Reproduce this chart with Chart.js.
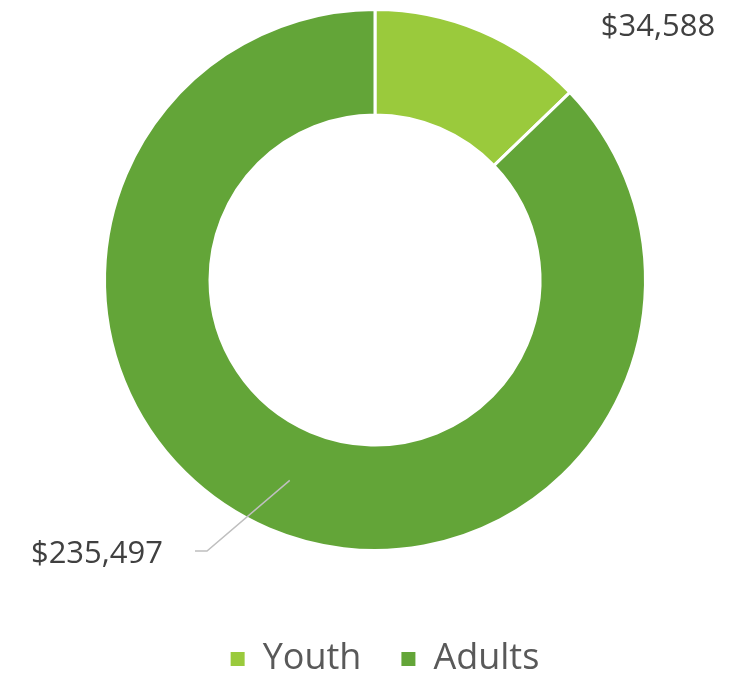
<!DOCTYPE html>
<html>
<head>
<meta charset="utf-8">
<script src="https://cdn.jsdelivr.net/npm/chart.js@4.4.1/dist/chart.umd.min.js"></script>
<style>
  html, body { margin: 0; padding: 0; background: #ffffff; }
  #wrap { width: 748px; height: 676px; }
</style>
</head>
<body>
<div id="wrap"><canvas id="donut" width="748" height="676"></canvas></div>
<script>
const categories = ['Youth', 'Adults'];
const amounts = [34588, 235497];
const sliceColors = ['#9aca3c', '#63a538'];

const fmt = v => '$' + v.toLocaleString('en-US');

// value labels: Youth sits up right, Adults gets a leader line down left
const valueLabels = {
    id: 'valueLabels',
    afterLayout(chart) {
        // legend sits a little right of centre in the original
        chart.legend.left += 10;
        chart.legend.right += 10;
    },
    afterDatasetsDraw(chart) {
        const ctx = chart.ctx;
        const arcs = chart.getDatasetMeta(0).data;
        ctx.save();
        ctx.font = '31px "Open Sans"';
        ctx.fillStyle = '#404040';
        ctx.textBaseline = 'middle';

        arcs.forEach((arc, i) => {
            const p = arc.getProps(['x', 'y', 'startAngle', 'endAngle', 'innerRadius', 'outerRadius'], true);
            const mid = (p.startAngle + p.endAngle) / 2;
            const text = fmt(amounts[i]);
            if (i === 0) {
                ctx.textAlign = 'center';
                ctx.fillText(text, p.x + 283, p.y - 253);
            } else {
                const r = (p.innerRadius + p.outerRadius) / 2;
                const sx = p.x + Math.cos(mid) * r;
                const sy = p.y + Math.sin(mid) * r;
                const ex = p.x - 168, ey = p.y + 271;
                ctx.strokeStyle = '#bfbfbf';
                ctx.lineWidth = 1.5;
                ctx.beginPath();
                ctx.moveTo(sx, sy);
                ctx.lineTo(ex, ey);
                ctx.lineTo(ex - 12, ey);
                ctx.stroke();
                ctx.textAlign = 'right';
                ctx.fillText(text, p.x - 212, p.y + 274);
            }
        });
        ctx.restore();
    }
};

new Chart(document.getElementById('donut'), {
    type: 'doughnut',
    data: {
        labels: categories,
        datasets: [{
            data: amounts,
            backgroundColor: sliceColors,
            borderColor: '#ffffff',
            borderWidth: 3
        }]
    },
    options: {
        responsive: false,
        animation: false,
        cutout: '61%',
        layout: { padding: { top: 8, left: 2, right: 0, bottom: 0 } },
        plugins: {
            tooltip: { enabled: false },
            legend: {
                position: 'bottom',
                maxHeight: 124,
                // empty title only used as a spacer between ring and legend
                title: {
                    display: true,
                    text: '',
                    font: { size: 10, lineHeight: 1 },
                    padding: { top: 39, bottom: 0 }
                },
                labels: {
                    font: { family: 'Open Sans', size: 36 },
                    color: '#595959',
                    boxWidth: 14,
                    boxHeight: 14,
                    padding: 40,
                    generateLabels(chart) {
                        const items = Chart.controllers.doughnut.overrides.plugins.legend.labels.generateLabels(chart);
                        return items.map(it => ({ ...it, lineWidth: 0, strokeStyle: it.fillStyle }));
                    }
                }
            }
        }
    },
    plugins: [valueLabels]
});
</script>
</body>
</html>
